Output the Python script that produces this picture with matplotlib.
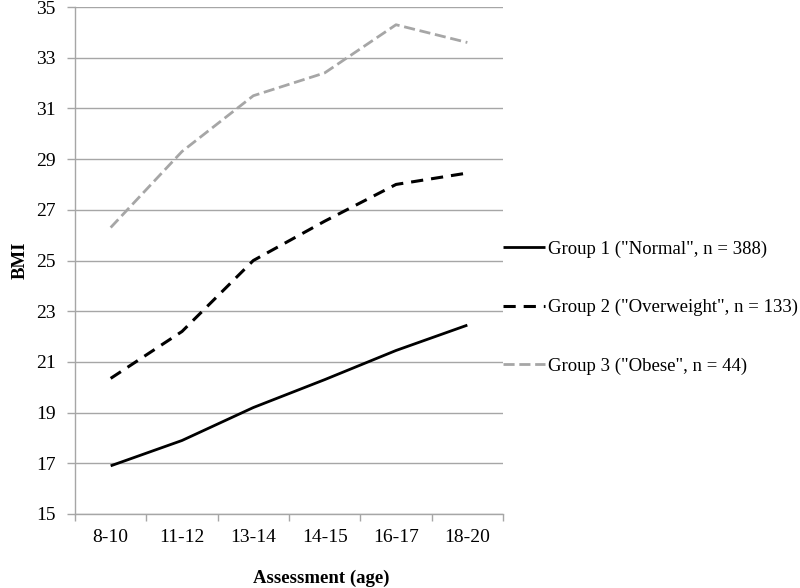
import matplotlib
matplotlib.use('Agg')
import matplotlib.pyplot as plt
import numpy as np

plt.rcParams['font.family'] = ['Liberation Serif', 'DejaVu Serif']

ages = ['8-10', '11-12', '13-14', '14-15', '16-17', '18-20']
normal = [16.9, 17.9, 19.2, 20.3, 21.45, 22.45]
overweight = [20.35, 22.2, 25.0, 26.55, 28.0, 28.45]
obese = [26.3, 29.3, 31.5, 32.4, 34.3, 33.6]
labels = ['Group 1 ("Normal", n = 388)',
          'Group 2 ("Overweight", n = 133)',
          'Group 3 ("Obese", n = 44)']
yticks = list(range(15, 36, 2))

grid_col = '#a6a6a6'
x = np.arange(len(ages))

fig = plt.figure(figsize=(8, 5.88), dpi=100)
ax = fig.add_axes([75 / 800, 74 / 588, 428 / 800, 507 / 588])

ax.plot(x, normal, color='black', lw=2.0, label=labels[0],
        solid_capstyle='butt')
ax.plot(x, overweight, color='black', lw=2.2, dashes=(4, 2.6),
        label=labels[1], dash_capstyle='butt')
ax.plot(x, obese, color=grid_col, lw=2.0, dashes=(4, 1.7),
        label=labels[2], dash_capstyle='butt')

ax.set_xlim(-0.5, len(ages) - 0.5)
ax.set_ylim(15, 35)
ax.set_yticks(yticks)
ax.set_xticks(x)
ax.set_xticklabels(ages)
ax.set_xticks(np.arange(-0.5, len(ages), 1.0), minor=True)
ax.tick_params(axis='x', which='major', length=0, pad=11, labelsize=14)
ax.tick_params(axis='x', which='minor', length=5, color=grid_col, width=1)
ax.tick_params(axis='y', length=6, color=grid_col, width=1, pad=8,
               labelsize=14)

ax.yaxis.grid(True, color=grid_col, lw=1)
ax.set_axisbelow(True)
for side in ['top', 'right']:
    ax.spines[side].set_visible(False)
for side in ['left', 'bottom']:
    ax.spines[side].set_color(grid_col)
    ax.spines[side].set_linewidth(1)

fig.text(20 / 800, 1 - 260 / 588, 'BMI', fontsize=13.5, fontweight='bold',
         rotation=90, ha='center', va='center')
fig.text(321 / 800, 1 - 578 / 588, 'Assessment (age)', fontsize=13.5,
         fontweight='bold', ha='center', va='center')

leg = ax.legend(loc='center left', bbox_to_anchor=(1.0, 0.407),
                frameon=False, fontsize=13.5, handlelength=2.25,
                handletextpad=0.15, labelspacing=2.2, borderpad=0,
                borderaxespad=0)

fig.savefig('out.png', dpi=100, facecolor='white')
